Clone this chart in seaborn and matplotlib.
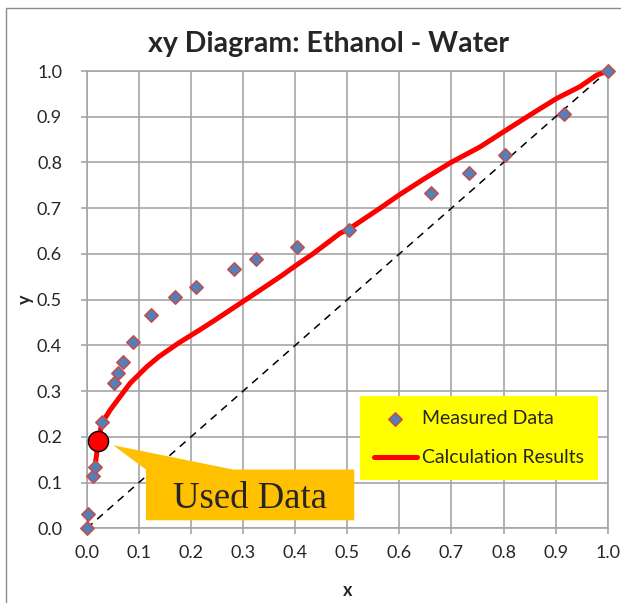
import numpy as np
import pandas as pd
import matplotlib.pyplot as plt
import matplotlib.transforms as mtransforms
from matplotlib.patches import Polygon, Rectangle
import seaborn as sns

# Measured VLE data, ethanol mole fraction in liquid (x) and vapour (y)
meas_x = [0.0, 0.002, 0.012, 0.016, 0.029, 0.052, 0.060, 0.069, 0.088, 0.124,
          0.169, 0.209, 0.282, 0.324, 0.403, 0.504, 0.661, 0.734, 0.803, 0.917, 1.0]
meas_y = [0.0, 0.031, 0.114, 0.135, 0.232, 0.317, 0.339, 0.363, 0.407, 0.466,
          0.505, 0.528, 0.566, 0.588, 0.616, 0.652, 0.733, 0.778, 0.816, 0.906, 1.0]

# Calculated curve
calc_x = [0.017, 0.022, 0.029, 0.045, 0.064, 0.083, 0.115, 0.138, 0.176, 0.217,
          0.243, 0.300, 0.371, 0.403, 0.435, 0.486, 0.504, 0.563, 0.601, 0.646,
          0.699, 0.755, 0.800, 0.851, 0.902, 0.947, 0.979, 1.000]
calc_y = [0.146, 0.191, 0.230, 0.259, 0.288, 0.317, 0.353, 0.375, 0.405, 0.434,
          0.453, 0.496, 0.550, 0.576, 0.601, 0.645, 0.655, 0.700, 0.730, 0.763,
          0.800, 0.834, 0.867, 0.904, 0.940, 0.966, 0.991, 1.000]

# the point used for the fit
used_x = [0.022]
used_y = [0.191]

ticks = [0.0, 0.1, 0.2, 0.3, 0.4, 0.5, 0.6, 0.7, 0.8, 0.9, 1.0]
tick_labels = [f'{t:.1f}' for t in ticks]

sns.set_style('white')
plt.rcParams['font.family'] = ['Lato', 'DejaVu Sans']

fig = plt.figure(figsize=(6.21, 6.03), dpi=100)
ax = fig.add_axes([86.8 / 621, 74.7 / 603, 520.9 / 621, 457.3 / 603])

measured = pd.DataFrame({'x': meas_x, 'y': meas_y})
calc = pd.DataFrame({'x': calc_x, 'y': calc_y})
used = pd.DataFrame({'x': used_x, 'y': used_y})

grid_color = '#A6A6A6'

ax.axline((0, 0), slope=1, color='black', lw=1.1, ls=(0, (5, 4)), zorder=2)
sns.lineplot(data=calc, x='x', y='y', color='red', lw=3.6, label='Calculation Results',
             estimator=None, sort=False, ax=ax, zorder=3, clip_on=False)
sns.scatterplot(data=measured, x='x', y='y', marker='D', s=46, color='#4F81BD',
                edgecolor='#C0504D', linewidth=1.2, label='Measured Data',
                ax=ax, zorder=4, clip_on=False)
sns.scatterplot(data=used, x='x', y='y', marker='o', s=210, color='red',
                edgecolor='black', linewidth=1.0, ax=ax, zorder=6, clip_on=False,
                legend=False)

# callout "Used Data" (offsets in pixels from the used point)
callout_tr = fig.dpi_scale_trans + mtransforms.ScaledTranslation(used_x[0], used_y[0], ax.transData)
verts = np.array([(15, -4.3), (135, -28.6), (256, -28.6), (256, -79.3),
                  (47.7, -79.3), (47.7, -28.6)]) / 100
ax.add_artist(Polygon(verts, closed=True, fc='#FFC000', ec='none',
                      transform=callout_tr, zorder=5, clip_on=False))
ax.text(151.7 / 100, -67.3 / 100, 'Used Data', transform=callout_tr, ha='center',
        va='baseline', fontsize=26.5, family='Liberation Serif', zorder=6)

ax.set_xlim(0, 1)
ax.set_ylim(0, 1)
ax.set_xticks(ticks)
ax.set_yticks(ticks)
ax.set_xticklabels(tick_labels)
ax.set_yticklabels(tick_labels)
ax.grid(True, color=grid_color, lw=1.2)
ax.set_axisbelow(True)
for s in ax.spines.values():
    s.set_color(grid_color)
    s.set_linewidth(1.2)
ax.tick_params(axis='both', direction='out', length=4.3, width=1.2, color=grid_color,
               labelsize=13, bottom=True, left=True)
ax.tick_params(axis='x', pad=8)
ax.tick_params(axis='y', pad=13.5)

ax.set_xlabel('x', fontsize=13, fontweight='bold', labelpad=15)
ax.set_ylabel('y', fontsize=13, fontweight='bold', labelpad=2)

h, l = ax.get_legend_handles_labels()
order = [l.index('Measured Data'), l.index('Calculation Results')]
leg = ax.legend([h[i] for i in order], [l[i] for i in order], loc='upper left',
                bbox_to_anchor=(0.5245, 0.2893), borderaxespad=0, frameon=True,
                fancybox=False, facecolor='yellow', edgecolor='none', framealpha=1,
                fontsize=14, handlelength=2.2, handletextpad=0.25, labelspacing=1.15,
                borderpad=0.72)
leg.set_zorder(10)

fig.text(329 / 621, 1 - 44 / 603, 'xy Diagram: Ethanol - Water', ha='center',
         va='center', fontsize=20.5, fontweight='bold')

# outer chart border
fig.add_artist(Rectangle((5.5 / 621, -0.1), 2, 1.1 - 8.3 / 603, transform=fig.transFigure,
                         fill=False, ec='#8C8C8C', lw=1))

fig.savefig('out.png', dpi=100)
